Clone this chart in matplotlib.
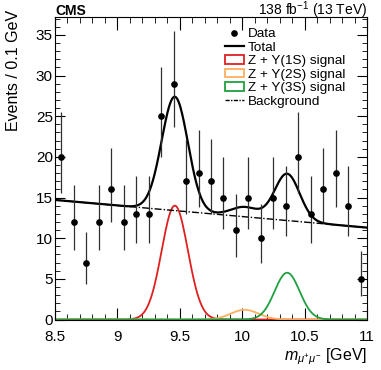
import numpy as np
import matplotlib
matplotlib.use('Agg')
from matplotlib import pyplot as plt
from matplotlib.lines import Line2D
from matplotlib.patches import Patch
from matplotlib.ticker import MultipleLocator, FuncFormatter

plt.rcParams['font.family'] = ['Liberation Sans', 'DejaVu Sans']
plt.rcParams['mathtext.fontset'] = 'custom'
plt.rcParams['mathtext.rm'] = 'Liberation Sans'
plt.rcParams['mathtext.it'] = 'Liberation Sans:italic'

# data: bin centres (0.1 GeV bins) and event counts
mass = [8.55, 8.65, 8.75, 8.85, 8.95, 9.05, 9.15, 9.25, 9.35, 9.45,
        9.55, 9.65, 9.75, 9.85, 9.95, 10.05, 10.15, 10.25, 10.35, 10.45,
        10.55, 10.65, 10.75, 10.85, 10.95]
counts = [20, 12, 7, 12, 16, 12, 13, 13, 25, 29,
          17, 18, 17, 15, 11, 15, 10, 15, 14, 20,
          13, 16, 18, 14, 5]

# fit model
sig_names = ['Z + \u03a5(1S) signal', 'Z + \u03a5(2S) signal', 'Z + \u03a5(3S) signal']
sig_colors = ['#e02020', '#ffb060', '#20a040']
sig_mean = [9.46, 10.02, 10.36]
sig_height = [14.0, 1.2, 5.75]
sig_width = [0.105, 0.11, 0.10]
bkg_ends = [14.7, 11.3]   # background at 8.5 and 11 GeV

x = np.linspace(8.5, 11, 600)
bkg = np.interp(x, [8.5, 11], bkg_ends)
sigs = [h * np.exp(-0.5 * ((x - m) / s) ** 2)
        for m, h, s in zip(sig_mean, sig_height, sig_width)]
total = bkg + sum(sigs)

# poisson (Garwood-like) error bars
n = np.array(counts, dtype=float)
lo = n - n * (1 - 1 / (9 * n) - 1 / (3 * np.sqrt(n))) ** 3
hi = (n + 1) * (1 - 1 / (9 * (n + 1)) + 1 / (3 * np.sqrt(n + 1))) ** 3 - n

fig = plt.figure(figsize=(3.81, 3.70), dpi=100)
ax = fig.add_axes([55 / 381, 1 - 319.5 / 370, 312 / 381, 302.5 / 370])

for s, c in zip(sigs, sig_colors):
    ax.plot(x, s, color=c, lw=1.3)
ax.plot(x, bkg, color='black', lw=1.0, ls=(0, (5, 1.5, 1, 1.5)))
ax.plot(x, total, color='black', lw=1.6)
ax.errorbar(mass, counts, yerr=[lo, hi], fmt='o', color='black', ms=3.8,
            ecolor='#303030', elinewidth=0.9, capsize=0)

ax.set_xlim(8.5, 11)
ax.set_ylim(0, 37.2)
ax.xaxis.set_major_locator(MultipleLocator(0.5))
ax.xaxis.set_minor_locator(MultipleLocator(0.1))
ax.yaxis.set_major_locator(MultipleLocator(5))
ax.yaxis.set_minor_locator(MultipleLocator(1))
ax.tick_params(axis='both', which='both', direction='in', top=True, right=True)
ax.tick_params(axis='x', which='major', length=9, labelsize=11, pad=7.5)
ax.tick_params(axis='x', which='minor', length=4.5)
ax.tick_params(axis='y', which='major', length=7, labelsize=11, pad=1.5)
ax.tick_params(axis='y', which='minor', length=3.5)
ax.xaxis.set_major_formatter(FuncFormatter(lambda v, p: '%g' % v))

ax.set_xlabel(r'$m_{\mu^{+}\mu^{-}}$ [GeV]', fontsize=11.5, loc='right')
ax.xaxis.set_label_coords(1.0, -0.088)
ax.set_ylabel('Events / 0.1 GeV', fontsize=11.5, loc='top')
ax.yaxis.set_label_coords(-0.108, 1.023)

ax.text(0.0, 1.008, 'CMS', transform=ax.transAxes, fontsize=10,
        fontweight='bold', ha='left', va='baseline')
ax.text(1.0, 1.008, r'138 fb$^{-1}$ (13 TeV)', transform=ax.transAxes,
        fontsize=10, ha='right', va='baseline')

handles = [Line2D([], [], marker='o', ms=3.8, color='black', ls='none'),
           Line2D([], [], color='black', lw=1.6)]
handles += [Patch(facecolor='none', edgecolor=c, lw=1.3) for c in sig_colors]
handles.append(Line2D([], [], color='black', lw=1.0, ls=(0, (3, 1, 1, 1))))
labels = ['Data', 'Total'] + sig_names + ['Background']
fig.legend(handles, labels, loc='upper left', bbox_to_anchor=(225 / 381, 1 - 28 / 370),
           frameon=False, fontsize=9.7, handlelength=1.4, handleheight=0.6,
           handletextpad=0.3, labelspacing=0.11, borderpad=0, borderaxespad=0)

fig.savefig('out.png', dpi=100)
